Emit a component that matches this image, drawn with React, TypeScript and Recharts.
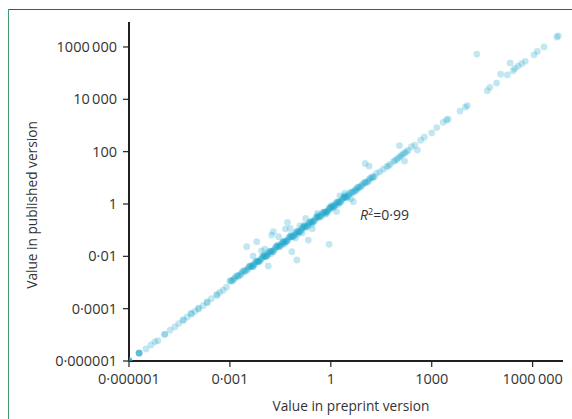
import React from 'react';
import { ScatterChart, Scatter, XAxis, YAxis, ReferenceDot } from 'recharts';

// ---- Data ----
// Low range: tiny values, running along the diagonal
const preprintLow = [
  1e-6, 1e-6, 1e-6, 1e-6, 1e-6, 2e-6, 2e-6, 2e-6, 2e-6,
  3.2e-6, 4.5e-6, 5.9e-6, 7.2e-6, 1.15e-5, 1.15e-5, 1.66e-5, 2.3e-5, 3.0e-5,
  4.1e-5, 4.1e-5, 5.4e-5, 7.1e-5, 7.1e-5, 9.1e-5, 1.17e-4, 1.17e-4, 1.6e-4,
  2.1e-4, 2.1e-4, 2.8e-4, 4.1e-4, 4.1e-4, 5.0e-4, 6.3e-4, 7.9e-4,
];
const publishedLow = [
  1e-6, 1e-6, 1e-6, 1e-6, 1e-6, 2e-6, 2e-6, 2e-6, 2e-6,
  2.9e-6, 4.1e-6, 5.4e-6, 6.0e-6, 1.05e-5, 1.05e-5, 1.5e-5, 2.0e-5, 2.7e-5,
  3.5e-5, 3.8e-5, 4.8e-5, 6.3e-5, 6.6e-5, 7.9e-5, 9.8e-5, 1.05e-4, 1.3e-4,
  1.7e-4, 1.8e-4, 2.4e-4, 3.2e-4, 3.5e-4, 4.2e-4, 5.1e-4, 6.6e-4,
];

// Dense core between 0.001 and ~20
const preprintCore = [
  1.0e-3, 1.26e-3, 1.58e-3, 2.0e-3, 2.51e-3, 3.16e-3, 3.98e-3, 5.01e-3, 6.31e-3, 7.94e-3,
  0.01, 0.0126, 0.0158, 0.02, 0.0251, 0.0316, 0.0398, 0.0501, 0.0631, 0.0794,
  0.1, 0.126, 0.158, 0.2, 0.251, 0.316, 0.398, 0.501, 0.631, 0.794,
  1.0, 1.26, 1.58, 2.0, 2.51, 3.16, 3.98, 5.01, 6.31, 7.94, 10, 12.6, 15.8, 20,
  1.12e-3, 1.41e-3, 1.78e-3, 2.24e-3, 2.82e-3, 3.55e-3, 4.47e-3, 5.62e-3, 7.08e-3, 8.91e-3,
  0.0112, 0.0141, 0.0178, 0.0224, 0.0282, 0.0355, 0.0447, 0.0562, 0.0708, 0.0891,
  0.112, 0.141, 0.178, 0.224, 0.282, 0.355, 0.447, 0.562, 0.708, 0.891,
  1.12, 1.41, 1.78, 2.24, 2.82, 3.55, 4.47, 5.62, 7.08, 8.91, 11.2, 14.1, 17.8,
  0.0105, 0.0166, 0.0263, 0.0417, 0.0661, 0.105, 0.166, 0.263, 0.417, 0.661, 1.05, 1.66, 2.63,
  1.07e-3, 1.35e-3, 1.7e-3, 2.14e-3, 2.69e-3, 3.39e-3, 4.27e-3, 5.37e-3, 6.76e-3, 8.51e-3,
  0.0107, 0.0135, 0.017, 0.0214, 0.0269, 0.0339, 0.0427, 0.0537, 0.0676, 0.0851,
  0.107, 0.135, 0.17, 0.214, 0.269, 0.339, 0.427, 0.537, 0.676, 0.851,
  1.07, 1.35, 1.7, 2.14, 2.69, 3.39, 4.27, 5.37, 6.76, 8.51, 10.7, 13.5,
  3.8e-3, 4.79e-3, 6.03e-3, 7.59e-3, 9.55e-3, 0.012, 0.0151, 0.0191, 0.024, 0.0302,
  0.038, 0.0479, 0.0603, 0.0759, 0.0955, 0.12, 0.151, 0.191, 0.24, 0.302,
  0.38, 0.479, 0.603, 0.759, 0.955, 1.2, 1.51, 1.91, 2.4, 3.02,
];
const publishedCore = [
  1.15e-3, 1.23e-3, 1.78e-3, 1.91e-3, 2.75e-3, 2.95e-3, 4.17e-3, 4.57e-3, 6.46e-3, 7.08e-3,
  0.01, 0.0107, 0.0155, 0.0166, 0.024, 0.0257, 0.0363, 0.0398, 0.0562, 0.0617,
  0.0871, 0.0933, 0.135, 0.145, 0.209, 0.224, 0.316, 0.347, 0.49, 0.537,
  0.759, 0.813, 1.17, 1.26, 1.82, 1.95, 2.75, 3.02, 4.27, 4.68, 6.61, 7.08, 10.2, 11.0,
  1.12e-3, 1.58e-3, 1.7e-3, 2.45e-3, 2.63e-3, 3.8e-3, 4.07e-3, 5.75e-3, 6.31e-3, 8.91e-3,
  9.77e-3, 0.0138, 0.0148, 0.0214, 0.0229, 0.0331, 0.0355, 0.0501, 0.055, 0.0776,
  0.0851, 0.12, 0.129, 0.186, 0.2, 0.288, 0.309, 0.437, 0.479, 0.676,
  0.741, 1.05, 1.15, 1.62, 1.74, 2.51, 2.69, 3.89, 4.17, 5.89, 6.46, 9.12, 10.0,
  0.0117, 0.0126, 0.0275, 0.0295, 0.0661, 0.0708, 0.158, 0.166, 0.372, 0.398, 0.891, 0.955, 2.14,
  1.17e-3, 1.38e-3, 1.82e-3, 2.09e-3, 2.82e-3, 3.24e-3, 4.37e-3, 5.01e-3, 6.61e-3, 7.76e-3,
  0.0102, 0.012, 0.0158, 0.0182, 0.0245, 0.0282, 0.038, 0.0437, 0.0575, 0.0676,
  0.0891, 0.105, 0.138, 0.158, 0.214, 0.245, 0.331, 0.38, 0.501, 0.589,
  0.776, 0.912, 1.2, 1.41, 1.86, 2.14, 2.88, 3.31, 4.47, 5.13, 6.76, 7.94,
  4.17e-3, 4.17e-3, 6.46e-3, 6.46e-3, 0.01, 0.01, 0.0155, 0.0151, 0.024, 0.0234,
  0.0363, 0.0363, 0.0562, 0.0562, 0.0871, 0.0851, 0.135, 0.132, 0.209, 0.204,
  0.316, 0.316, 0.49, 0.49, 0.759, 0.741, 1.17, 1.15, 1.82, 1.78,
];

// Scattered points around the core
const preprintSpread = [
  3.16e-3, 6.31e-3, 0.011, 0.0195, 0.0174, 0.0513, 0.0617, 0.12, 0.214, 0.891,
  0.0389, 0.0692, 0.0977, 0.0123, 6.92e-3, 4.9e-3, 0.398, 0.955, 1.86, 2.63,
  4.68, 5.89, 8.71e-3, 4.9e-3, 0.0138, 0.759, 1.48,
  0.0447, 0.0891, 0.141, 0.0282, 0.178, 0.282, 1.26, 3.98,
];
const publishedSpread = [
  0.0234, 0.0363, 0.0186, 0.0871, 0.0646, 0.2, 0.117, 0.145, 0.0417, 0.0288,
  0.0316, 0.0151, 7.24e-3, 9.77e-3, 6.17e-3, 3.98e-3, 0.437, 0.631, 2.04, 2.57,
  1.23, 3.39, 0.0162, 0.0102, 4.27e-3, 0.437, 0.513,
  0.112, 0.0501, 0.0794, 0.0562, 0.282, 0.112, 0.891, 1.58,
];

// Upper range: large values
const preprintHigh = [
  17.4, 22.9, 28.8, 36.3, 45.7, 51.3, 57.5, 72.4, 81.3, 91.2, 102, 115, 126, 141, 158, 178, 200,
  251, 316, 372, 468, 603, 1000, 1410, 2190, 2750, 3090, 6920, 10000, 11500,
  44700, 53700, 85100, 112000, 178000, 214000, 263000, 295000, 372000, 468000, 603000,
  1100000, 1380000, 2190000, 5250000, 5750000,
  21900, 110, 155, 10.5, 13.8,
];
const publishedHigh = [
  11.0, 14.8, 17.0, 21.4, 26.3, 28.8, 32.4, 41.7, 45.7, 50.1, 57.5, 64.6, 72.4, 81.3, 89.1, 100, 112,
  155, 178, 115, 275, 355, 525, 832, 1320, 1620, 1740, 3550, 5010, 5750,
  21400, 28800, 41700, 91200, 85100, 245000, 123000, 151000, 186000, 229000, 282000,
  501000, 676000, 1000000, 2400000, 2630000,
  537000, 170, 43.7, 35.5, 28.2,
];

const xTicks = [1e-6, 1e-3, 1, 1e3, 1e6];
const xTickLabels = ['0\u00b7000001', '0\u00b7001', '1', '1000', '1000\u2009000'];
const yTicks = [1e-6, 1e-4, 1e-2, 1, 1e2, 1e4, 1e6];
const yTickLabels = ['0\u00b7000001', '0\u00b70001', '0\u00b701', '1', '100', '10\u2009000', '1000\u2009000'];

const xTitle = 'Value in preprint version';
const yTitle = 'Value in published version';
const r2Text = '=0\u00b799';
const r2Position = { x: 7.4, y: 0.234 };

const preprintAll = [...preprintLow, ...preprintCore, ...preprintSpread, ...preprintHigh];
const publishedAll = [...publishedLow, ...publishedCore, ...publishedSpread, ...publishedHigh];
const points = preprintAll.map((x, i) => ({ x, y: publishedAll[i] }));

const FONT = '"Open Sans", Lato, sans-serif';
const TEXT = '#333333';
const AXIS = '#231f20';
const DOT = '#1fa6cb';

const fmt = (ticks: number[], labels: string[]) => (v: number) => {
  let best = 0;
  ticks.forEach((t, i) => {
    if (Math.abs(Math.log10(t) - Math.log10(v)) < Math.abs(Math.log10(ticks[best]) - Math.log10(v))) best = i;
  });
  return labels[best];
};

const Dot = (p: any) => {
  if (p.cx == null || p.cy == null) return null;
  return <circle cx={p.cx} cy={p.cy} r={3.4} fill={DOT} fillOpacity={0.27} />;
};

const R2 = (p: any) => (
  <text x={p.cx} y={p.cy} fontFamily={FONT} fontSize={14} fill={TEXT}>
    <tspan fontStyle="italic">R</tspan>
    <tspan fontSize={9} dy={-5}>2</tspan>
    <tspan dy={5}>{r2Text}</tspan>
  </text>
);

const XTitle = (p: any) => {
  const vb = p.viewBox || {};
  return (
    <text x={vb.x + vb.width / 2 + 5} y={vb.y + vb.height - 8} textAnchor="middle" fontFamily={FONT} fontSize={13.7} fill={TEXT}>
      {xTitle}
    </text>
  );
};

const YTitle = () => (
  <text transform="translate(36.5, 205) rotate(-90)" textAnchor="middle" fontFamily={FONT} fontSize={13.7} fill={TEXT}>
    {yTitle}
  </text>
);

export default function App() {
  return (
    <div style={{ position: 'absolute', left: 0, top: 0, width: 572, height: 419, background: '#fff', overflow: 'hidden' }}>
      <div style={{ position: 'absolute', left: 8, top: 9, width: 564, height: 1, background: '#1f6f44' }} />
      <div style={{ position: 'absolute', left: 8, top: 9, width: 1, height: 410, background: '#3d9c66' }} />
      <div style={{ position: 'absolute', left: 0, top: 0 }}>
        <ScatterChart width={572} height={419} margin={{ top: 22, right: 9, bottom: 0, left: 0 }}>
          <XAxis
            type="number"
            dataKey="x"
            scale="log"
            domain={[1e-6, 8e6]}
            allowDataOverflow
            ticks={xTicks}
            tickFormatter={fmt(xTicks, xTickLabels)}
            height={58}
            axisLine={{ stroke: AXIS, strokeWidth: 2 }}
            tickLine={{ stroke: AXIS, strokeWidth: 1.2 }}
            tickSize={6}
            tickMargin={7}
            tick={{ fill: TEXT, fontSize: 14.5, fontFamily: FONT }}
            label={{ content: XTitle }}
          />
          <YAxis
            type="number"
            dataKey="y"
            scale="log"
            domain={[1e-6, 9e6]}
            allowDataOverflow
            ticks={yTicks}
            tickFormatter={fmt(yTicks, yTickLabels)}
            width={129}
            axisLine={{ stroke: AXIS, strokeWidth: 2 }}
            tickLine={{ stroke: AXIS, strokeWidth: 1.2 }}
            tickSize={6}
            tickMargin={6}
            tick={{ fill: TEXT, fontSize: 14.5, fontFamily: FONT }}
            label={{ content: YTitle }}
          />
          <Scatter data={points} isAnimationActive={false} shape={Dot} />
          <ReferenceDot x={r2Position.x} y={r2Position.y} r={0} ifOverflow="visible" shape={R2} />
        </ScatterChart>
      </div>
    </div>
  );
}
